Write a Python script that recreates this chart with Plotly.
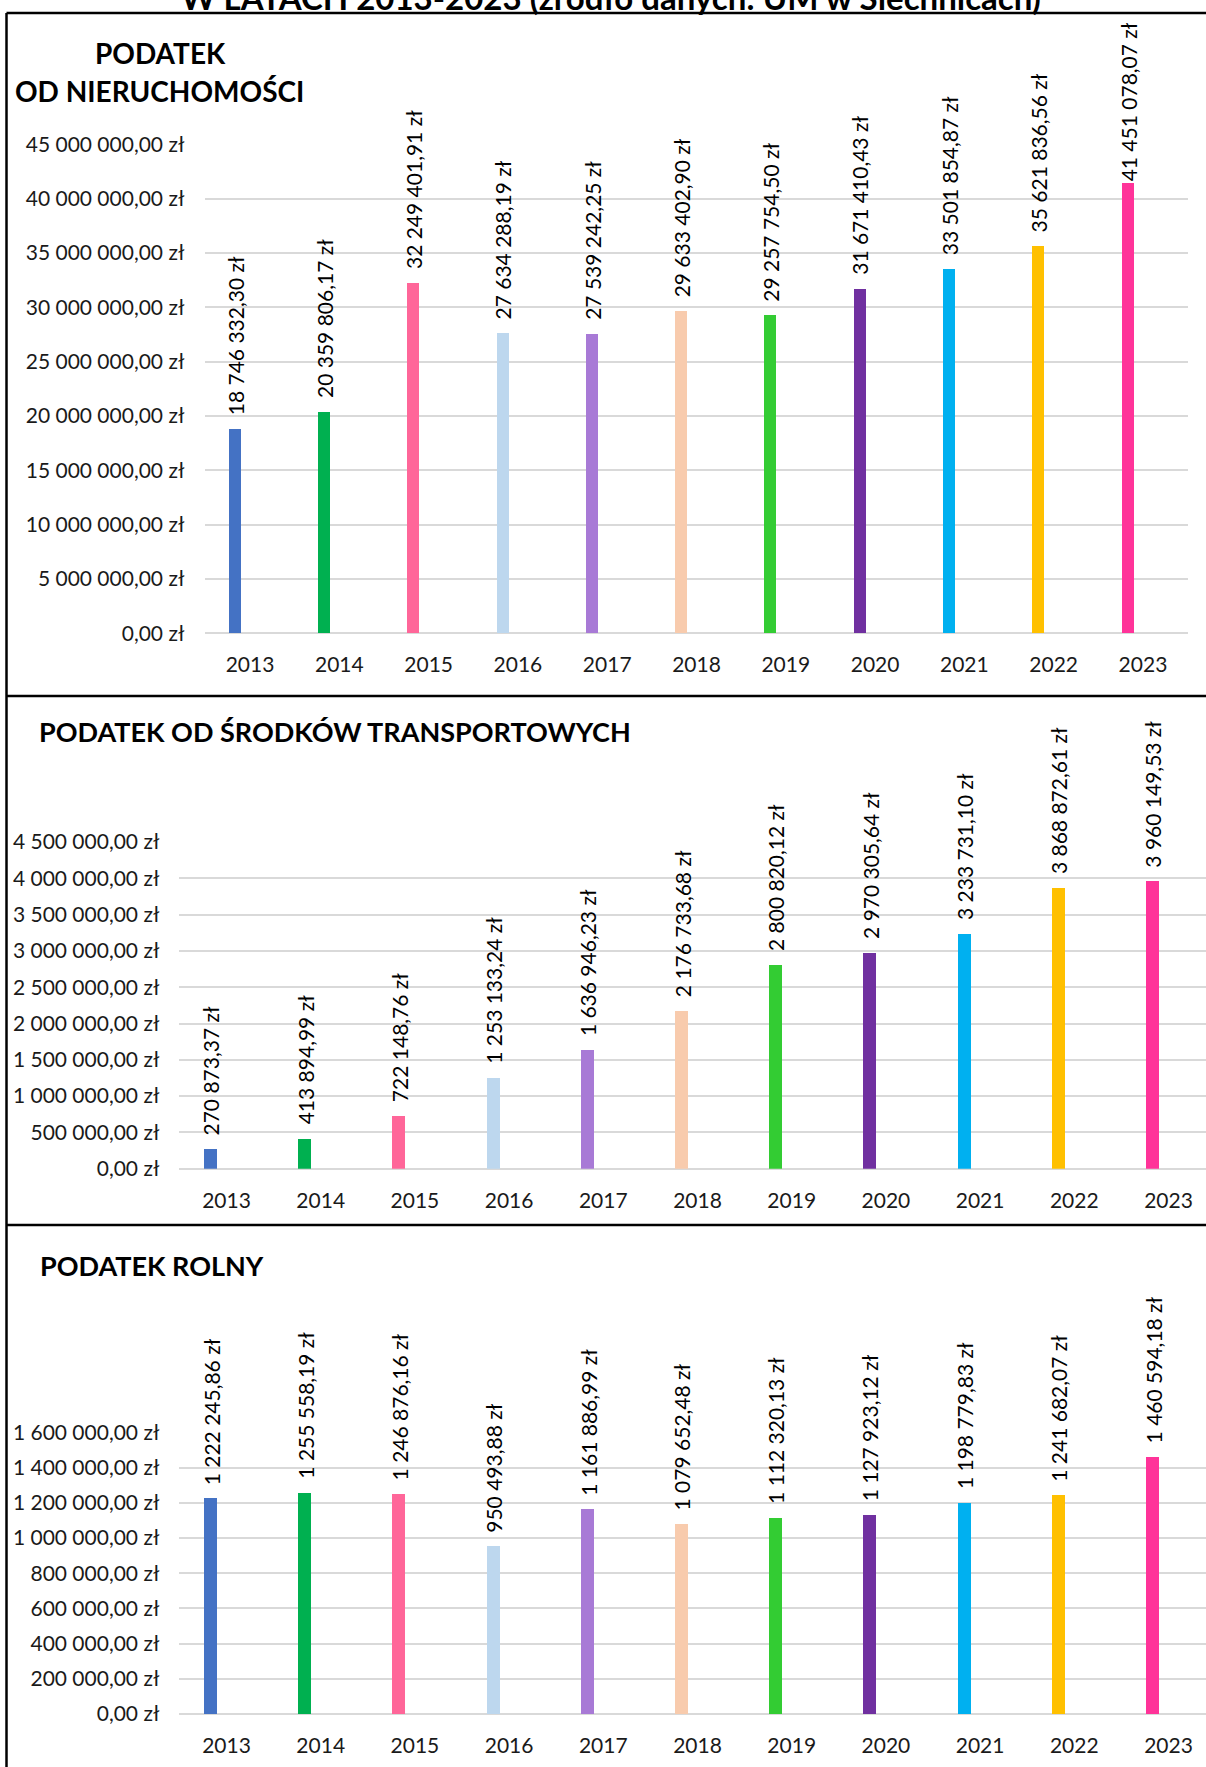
import plotly.graph_objects as go

# ---------------- data ----------------
YEARS = ["2013", "2014", "2015", "2016", "2017", "2018", "2019", "2020", "2021", "2022", "2023"]

NIERUCHOMOSCI = [18746332.30, 20359806.17, 32249401.91, 27634288.19, 27539242.25, 29633402.90,
                 29257754.50, 31671410.43, 33501854.87, 35621836.56, 41451078.07]
TRANSPORT = [270873.37, 413894.99, 722148.76, 1253133.24, 1636946.23, 2176733.68,
             2800820.12, 2970305.64, 3233731.10, 3868872.61, 3960149.53]
ROLNY = [1222245.86, 1255558.19, 1246876.16, 950493.88, 1161886.99, 1079652.48,
         1112320.13, 1127923.12, 1198779.83, 1241682.07, 1460594.18]

BAR_COLORS = ["#4472C4", "#00B050", "#FF6699", "#BDD7EE", "#A87AD6", "#F8CBAD",
              "#33CC33", "#7030A0", "#00B0F0", "#FFC000", "#FF3399"]

NIER_TICKVALS = [0, 5e6, 10e6, 15e6, 20e6, 25e6, 30e6, 35e6, 40e6, 45e6]
NIER_TICKTEXT = ["0,00 zł", "5 000 000,00 zł", "10 000 000,00 zł", "15 000 000,00 zł",
                 "20 000 000,00 zł", "25 000 000,00 zł", "30 000 000,00 zł",
                 "35 000 000,00 zł", "40 000 000,00 zł", "45 000 000,00 zł"]
TRANS_TICKVALS = [0, 0.5e6, 1e6, 1.5e6, 2e6, 2.5e6, 3e6, 3.5e6, 4e6, 4.5e6]
TRANS_TICKTEXT = ["0,00 zł", "500 000,00 zł", "1 000 000,00 zł", "1 500 000,00 zł",
                  "2 000 000,00 zł", "2 500 000,00 zł", "3 000 000,00 zł",
                  "3 500 000,00 zł", "4 000 000,00 zł", "4 500 000,00 zł"]
ROLNY_TICKVALS = [0, 2e5, 4e5, 6e5, 8e5, 10e5, 12e5, 14e5, 16e5]
ROLNY_TICKTEXT = ["0,00 zł", "200 000,00 zł", "400 000,00 zł", "600 000,00 zł",
                  "800 000,00 zł", "1 000 000,00 zł", "1 200 000,00 zł",
                  "1 400 000,00 zł", "1 600 000,00 zł"]

MAIN_TITLE = "W LATACH 2013-2023 (źródło danych: UM w Siechnicach)"
TITLE_1A = "PODATEK"
TITLE_1B = "OD NIERUCHOMOŚCI"
TITLE_2 = "PODATEK OD ŚRODKÓW TRANSPORTOWYCH"
TITLE_3 = "PODATEK ROLNY"

# ---------------- styling ----------------
W, H = 1206, 1767
FONT = "Lato, 'Noto Sans', sans-serif"
TXT = "#1a1a1a"
GRID = "#D9D9D9"


def fx(p):
    return p / W


def fy(p):
    return 1 - p / H


def fmt_pl(v):
    s = f"{v:,.2f}"
    return s.replace(",", " ").replace(".", ",") + " zł"


panels = [
    dict(vals=NIERUCHOMOSCI, tv=NIER_TICKVALS, tt=NIER_TICKTEXT, ymax=45e6,
         xdom=(205.4, 1187.6), ydom=(633.4, 144.3), catpx=89.3, bw=0.135, boff=-0.235,
         xrange=(-0.5, 10.5), ystand=20),
    dict(vals=TRANSPORT, tv=TRANS_TICKVALS, tt=TRANS_TICKTEXT, ymax=4.5e6,
         xdom=(179.4, 1206), ydom=(1168.7, 842.0), catpx=94.2, bw=0.138, boff=-0.234,
         xrange=(-0.5, (1206 - 179.4) / 94.2 - 0.5), ystand=19),
    dict(vals=ROLNY, tv=ROLNY_TICKVALS, tt=ROLNY_TICKTEXT, ymax=1.6e6,
         xdom=(179.4, 1206), ydom=(1714.0, 1432.4), catpx=94.2, bw=0.138, boff=-0.234,
         xrange=(-0.5, (1206 - 179.4) / 94.2 - 0.5), ystand=19),
]

LABEL_GAP = 12
LABEL_GAP_OVERRIDE = {(0, "2023"): 0}

fig = go.Figure()
annotations = []
layout_axes = {}

for i, p in enumerate(panels):
    n = i + 1
    xa = "x" if n == 1 else f"x{n}"
    ya = "y" if n == 1 else f"y{n}"
    fig.add_trace(go.Bar(
        x=YEARS, y=p["vals"], xaxis=xa, yaxis=ya,
        marker=dict(color=BAR_COLORS, line=dict(width=0)),
        width=p["bw"], offset=p["boff"], hoverinfo="skip", showlegend=False,
    ))
    layout_axes["xaxis" if n == 1 else f"xaxis{n}"] = dict(
        domain=[fx(p["xdom"][0]), fx(p["xdom"][1])], anchor=ya,
        type="category", range=list(p["xrange"]), automargin=False,
        showgrid=False, showline=False, zeroline=False, ticks="",
        tickfont=dict(family=FONT, size=21, color=TXT), ticklabelstandoff=17,
        fixedrange=True,
    )
    layout_axes["yaxis" if n == 1 else f"yaxis{n}"] = dict(
        domain=[fy(p["ydom"][0]), fy(p["ydom"][1])], anchor=xa,
        range=[0, p["ymax"]], tickvals=p["tv"], ticktext=p["tt"], automargin=False,
        showgrid=True, gridcolor=GRID, gridwidth=1.5,
        zeroline=True, zerolinecolor=GRID, zerolinewidth=1.5,
        showline=False, ticks="", ticklabelstandoff=p["ystand"],
        tickfont=dict(family=FONT, size=21, color=TXT), fixedrange=True,
    )
    shift_px = (p["boff"] + p["bw"] / 2) * p["catpx"]
    for k, (yr, v) in enumerate(zip(YEARS, p["vals"])):
        annotations.append(dict(
            x=k, y=v, xref=xa, yref=ya, text=fmt_pl(v), showarrow=False,
            textangle=-90, xanchor="center", yanchor="bottom",
            xshift=shift_px, yshift=LABEL_GAP_OVERRIDE.get((i, yr), LABEL_GAP),
            font=dict(family=FONT, size=21, color="#000000"),
        ))

annotations += [
    dict(x=fx(611), y=fy(18.5), xref="paper", yref="paper", text=f"<b>{MAIN_TITLE}</b>",
         showarrow=False, xanchor="center", yanchor="bottom",
         font=dict(family=FONT, size=33, color="#000000")),
    dict(x=fx(160), y=fy(53), xref="paper", yref="paper", text=f"<b>{TITLE_1A}</b>",
         showarrow=False, xanchor="center", yanchor="middle",
         font=dict(family=FONT, size=28, color="#000000")),
    dict(x=fx(159.5), y=fy(91), xref="paper", yref="paper", text=f"<b>{TITLE_1B}</b>",
         showarrow=False, xanchor="center", yanchor="middle",
         font=dict(family=FONT, size=28, color="#000000")),
    dict(x=fx(37), y=fy(731.5), xref="paper", yref="paper", text=f"<b>{TITLE_2}</b>",
         showarrow=False, xanchor="left", yanchor="middle",
         font=dict(family=FONT, size=27, color="#000000")),
    dict(x=fx(38.3), y=fy(1265.6), xref="paper", yref="paper", text=f"<b>{TITLE_3}</b>",
         showarrow=False, xanchor="left", yanchor="middle",
         font=dict(family=FONT, size=27, color="#000000")),
]

LW = 2.5
shapes = [
    dict(type="line", xref="paper", yref="paper", x0=fx(6.5), x1=fx(6.5), y0=fy(13), y1=0,
         line=dict(color="#000000", width=LW)),
    dict(type="line", xref="paper", yref="paper", x0=fx(6.5), x1=1, y0=fy(13), y1=fy(13),
         line=dict(color="#000000", width=LW)),
    dict(type="line", xref="paper", yref="paper", x0=fx(6.5), x1=1, y0=fy(696), y1=fy(696),
         line=dict(color="#000000", width=LW)),
    dict(type="line", xref="paper", yref="paper", x0=fx(6.5), x1=1, y0=fy(1225), y1=fy(1225),
         line=dict(color="#000000", width=LW)),
]

fig.update_layout(
    width=W, height=H, margin=dict(l=0, r=0, t=0, b=0, autoexpand=False),
    paper_bgcolor="white", plot_bgcolor="white",
    annotations=annotations, shapes=shapes, bargap=0, showlegend=False,
    font=dict(family=FONT, color=TXT),
    **layout_axes,
)

fig.write_html(
    "out.html",
    config={"displayModeBar": False},
    post_script="document.body.style.margin='0';document.body.style.overflow='hidden';",
)
